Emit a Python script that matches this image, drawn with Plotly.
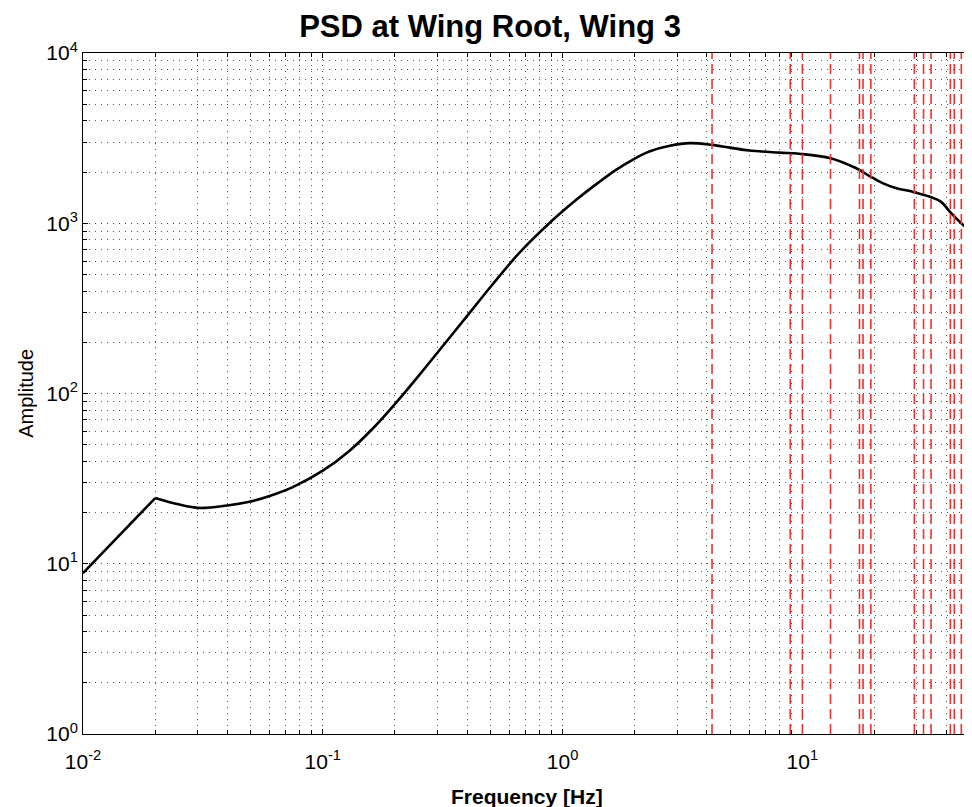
import plotly.graph_objects as go

# PSD curve (frequency in Hz, amplitude)
freq = [0.01, 0.02, 0.03, 0.04, 0.05, 0.06, 0.075, 0.1, 0.129, 0.162, 0.203,
        0.245, 0.297, 0.397, 0.51, 0.66, 0.88, 1.14, 1.4, 1.67, 2.0, 2.3,
        2.8, 3.4, 4.2, 5.0, 6.0, 8.0, 9.7, 13.1, 16.7, 19.0, 21.6, 24.5, 28.6,
        33.8, 38.0, 41.0, 45.0, 50.0]
amp = [8.8, 24.3, 21.3, 22.0, 23.2, 25.0, 28.2, 35.2, 46, 62.5, 89,
       122, 170, 282, 437, 670, 1000, 1372, 1720, 2060, 2400, 2640,
       2850, 2955, 2885, 2780, 2675, 2600, 2560, 2412, 2110, 1900, 1720, 1610, 1535,
       1435, 1330, 1180, 1030, 900]

# modal frequencies marked with red dashed lines
modes = [4.2, 8.9, 10.0, 13.1, 17.3, 17.9, 19.3, 29.3, 32.0, 34.4, 41.4, 43.0, 46.0]

x_decades = [-2, -1, 0, 1]
y_decades = [0, 1, 2, 3, 4]

FONT = "Liberation Sans, Arial, sans-serif"

fig = go.Figure()
for f in modes:
    fig.add_shape(type="line", x0=f, x1=f, y0=0, y1=1, xref="x", yref="paper",
                  line=dict(color="rgb(235,50,50)", width=1.6, dash="10px,5px"))

# straight rise up to the 0.02 Hz kink, smooth curve afterwards
fig.add_trace(go.Scatter(x=freq[:2], y=amp[:2], mode="lines",
                         line=dict(color="black", width=2.6), showlegend=False))
fig.add_trace(go.Scatter(x=freq[1:], y=amp[1:], mode="lines",
                         line=dict(color="black", width=2.6, shape="spline", smoothing=1.0),
                         showlegend=False))

grid_col = "rgba(60,60,60,0.85)"
axis_common = dict(
    type="log", showline=True, linecolor="black", linewidth=1, mirror="ticks",
    ticks="inside", ticklen=5, tickcolor="black", showgrid=True, automargin=False,
    gridcolor=grid_col, griddash="1px,5px", gridwidth=1, zeroline=False,
    minor=dict(dtick="D1", ticks="inside", ticklen=4, tickcolor="black",
               showgrid=True, gridcolor=grid_col, griddash="1px,5px", gridwidth=1),
    tickfont=dict(family=FONT, size=21, color="black"),
)

fig.update_layout(
    width=964, height=799,
    margin=dict(l=75, r=2, t=45, b=73),
    paper_bgcolor="white", plot_bgcolor="white",
    title=dict(text="<b>PSD at Wing Root, Wing 3</b>", x=0.5, xanchor="center",
               y=0.977, yanchor="middle",
               font=dict(family=FONT, size=31, color="black")),
    xaxis=dict(range=[-2, 1.699], tickvals=[10.0 ** d for d in x_decades],
               ticktext=[f"10<sup>{d}</sup>" for d in x_decades],
               ticklabelstandoff=9, **axis_common),
    yaxis=dict(range=[0, 4], tickvals=[10.0 ** d for d in y_decades],
               ticktext=[f"10<sup>{d}</sup>" for d in y_decades], **axis_common),
    annotations=[
        dict(text="<b>Frequency [Hz]</b>", xref="paper", yref="paper", x=0.5, y=-0.092,
             xanchor="center", yanchor="middle", showarrow=False,
             font=dict(family=FONT, size=21, color="black")),
        dict(text="Amplitude", xref="paper", yref="paper", x=-0.065, y=0.5,
             xanchor="center", yanchor="middle", showarrow=False, textangle=-90,
             font=dict(family=FONT, size=20, color="black")),
    ],
)

fig.write_html("out.html")
